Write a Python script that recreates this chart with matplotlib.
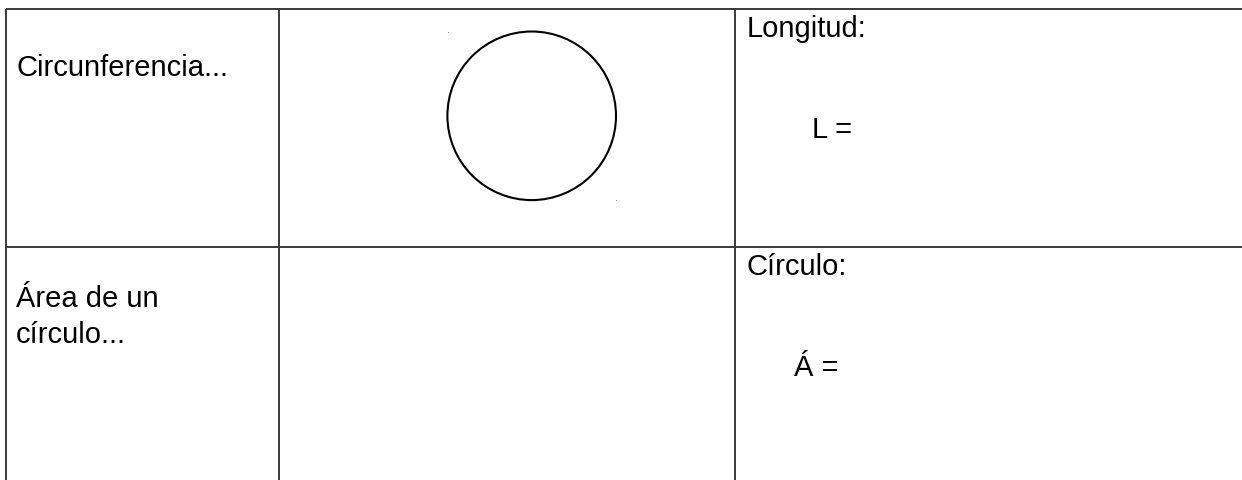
import matplotlib
matplotlib.use("Agg")
import matplotlib.pyplot as plt
from matplotlib.patches import Circle

plt.rcParams['font.family'] = ['Liberation Sans', 'DejaVu Sans']

# table content
row_labels = ["Circunferencia...", "Área de un\ncírculo..."]
right_titles = ["Longitud:", "Círculo:"]
formulas = ["L =", "Á ="]

# layout in pixels (y grows downward)
W, H = 1242, 480
col_edges = [6, 279.3, 735.3]
row_edges = [9.3, 247.3]
line_color = '#3a3a3a'

fig = plt.figure(figsize=(W / 100, H / 100), dpi=100, facecolor='white')
ax = fig.add_axes([0, 0, 1, 1])
ax.set_xlim(0, W)
ax.set_ylim(H, 0)
ax.axis('off')

# grid lines
for y in row_edges:
    ax.plot([col_edges[0], W + 5], [y, y], color=line_color, lw=1.4,
            solid_capstyle='butt')
for x in col_edges:
    ax.plot([x, x], [row_edges[0], H + 5], color=line_color, lw=1.4,
            solid_capstyle='butt')

fs = 21
# left column labels
label_baselines = [76, 307.3]
for txt, yb in zip(row_labels, label_baselines):
    ax.text(16, yb, txt.split("\n")[0], fontsize=fs, va='baseline', ha='left')
    if "\n" in txt:
        ax.text(16, yb + 35.4, txt.split("\n")[1], fontsize=fs,
                va='baseline', ha='left')

# right column titles and formulas
title_baselines = [37.3, 275]
formula_pos = [(811.7, 138.3), (794, 375.7)]
for t, yb in zip(right_titles, title_baselines):
    ax.text(746.5, yb, t, fontsize=fs, va='baseline', ha='left')
for f, (x, yb) in zip(formulas, formula_pos):
    ax.text(x, yb, f, fontsize=fs, va='baseline', ha='left')

# circle drawing in middle cell
ax.add_patch(Circle((531.7, 115.8), 84.3, fill=False, edgecolor='black',
                    lw=1.5))
ax.plot([448.3, 616], [32, 200], linestyle='none', marker='o',
        markersize=0.6, markeredgewidth=0, color='#777777')

fig.savefig('out.png', dpi=100, facecolor='white')
